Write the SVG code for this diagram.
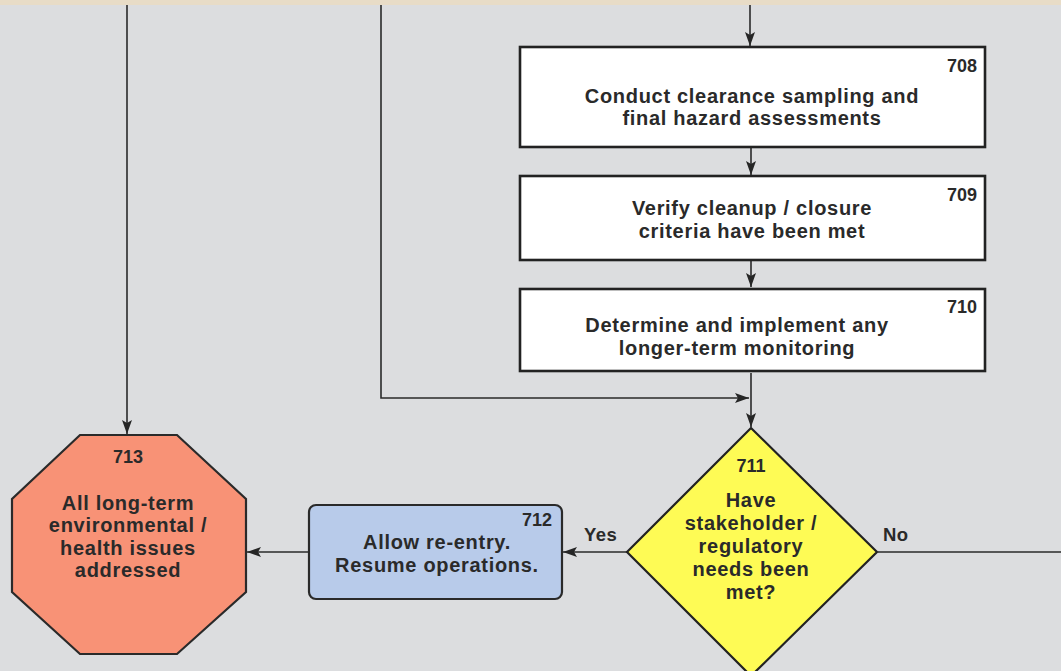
<svg xmlns="http://www.w3.org/2000/svg" width="1061" height="671" viewBox="0 0 1061 671">
  <defs>
    <marker id="arrow" viewBox="0 0 14 10" refX="14" refY="5" markerWidth="14" markerHeight="10" markerUnits="userSpaceOnUse" orient="auto">
      <path d="M0,0 L14,5 L0,10 L3,5 Z" fill="#262626"/>
    </marker>
    <style>
      .conn { stroke: #2a2a2a; stroke-width: 1.6; fill: none; }
      .box { fill: #ffffff; stroke: #222222; stroke-width: 2.6; }
      .t { font-family: "Liberation Sans", Arial, sans-serif; font-weight: bold; fill: #2a2a2a; }
      .lbl { font-size: 20px; letter-spacing: 0.7px; text-anchor: middle; }
      .num { font-size: 18px; }
    </style>
  </defs>

  <!-- page background and header band -->
  <rect x="0" y="0" width="1061" height="671" fill="#dcdddf"/>
  <rect x="0" y="0" width="1061" height="5" fill="#e8dcc7"/>

  <!-- connectors -->
  <g id="connectors">
    <line class="conn" x1="127" y1="5" x2="127" y2="434" marker-end="url(#arrow)"/>
    <polyline class="conn" points="381,5 381,398 749,398" marker-end="url(#arrow)"/>
    <line class="conn" x1="750" y1="5" x2="750" y2="46" marker-end="url(#arrow)"/>
    <line class="conn" x1="751" y1="148" x2="751" y2="175" marker-end="url(#arrow)"/>
    <line class="conn" x1="751" y1="261" x2="751" y2="287" marker-end="url(#arrow)"/>
    <line class="conn" x1="751" y1="373" x2="751" y2="427" marker-end="url(#arrow)"/>
    <line class="conn" x1="627" y1="552" x2="563" y2="552" marker-end="url(#arrow)"/>
    <line class="conn" x1="308" y1="552" x2="247" y2="552" marker-end="url(#arrow)"/>
    <line class="conn" x1="878" y1="552" x2="1061" y2="552"/>
    <text class="t" x="584" y="541" font-size="18.5" letter-spacing="0.4">Yes</text>
    <text class="t" x="883" y="541" font-size="18.5" letter-spacing="0.4">No</text>
  </g>

  <!-- 708 -->
  <g id="node-708">
    <rect class="box" x="520" y="47" width="465" height="100"/>
    <text class="t num" x="977" y="72" text-anchor="end">708</text>
    <text class="t lbl" x="752" y="103">Conduct clearance sampling and</text>
    <text class="t lbl" x="752" y="125">final hazard assessments</text>
  </g>

  <!-- 709 -->
  <g id="node-709">
    <rect class="box" x="520" y="176" width="465" height="84"/>
    <text class="t num" x="977" y="201" text-anchor="end">709</text>
    <text class="t lbl" x="752" y="215">Verify cleanup / closure</text>
    <text class="t lbl" x="752" y="238">criteria have been met</text>
  </g>

  <!-- 710 -->
  <g id="node-710">
    <rect class="box" x="520" y="289" width="465" height="82"/>
    <text class="t num" x="977" y="313" text-anchor="end">710</text>
    <text class="t lbl" x="737" y="332">Determine and implement any</text>
    <text class="t lbl" x="737" y="355">longer-term monitoring</text>
  </g>

  <!-- 711 decision -->
  <g id="node-711">
    <polygon points="751,428 877,552 751,676 627,552" fill="#fefb55" stroke="#222222" stroke-width="2.2"/>
    <text class="t num" x="751" y="472" text-anchor="middle">711</text>
    <text class="t lbl" x="751" y="507">Have</text>
    <text class="t lbl" x="751" y="530">stakeholder /</text>
    <text class="t lbl" x="751" y="553">regulatory</text>
    <text class="t lbl" x="751" y="576">needs been</text>
    <text class="t lbl" x="751" y="599">met?</text>
  </g>

  <!-- 712 -->
  <g id="node-712">
    <rect x="309" y="505" width="253" height="94" rx="7" ry="7" fill="#b8cbea" stroke="#2a2a2a" stroke-width="2.2"/>
    <text class="t num" x="552" y="526" text-anchor="end">712</text>
    <text class="t lbl" x="437" y="549">Allow re-entry.</text>
    <text class="t lbl" x="437" y="572">Resume operations.</text>
  </g>

  <!-- 713 terminal -->
  <g id="node-713">
    <polygon points="80,435 177,435 246,499 246,592 177,654 80,654 12,592 12,499" fill="#f89276" stroke="#2a2a2a" stroke-width="2.2"/>
    <text class="t num" x="128" y="463" text-anchor="middle">713</text>
    <text class="t lbl" x="128" y="510">All long-term</text>
    <text class="t lbl" x="128" y="532">environmental /</text>
    <text class="t lbl" x="128" y="555">health issues</text>
    <text class="t lbl" x="128" y="577">addressed</text>
  </g>
</svg>
